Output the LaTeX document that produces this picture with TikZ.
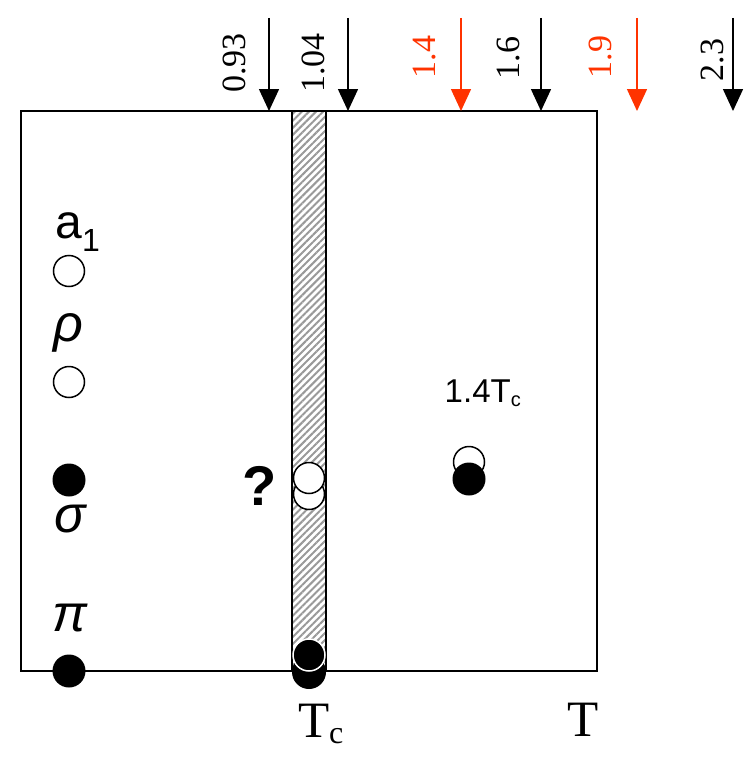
\documentclass[tikz,border=0pt]{standalone}
\usepackage{fontspec}
\setmainfont{Liberation Serif}
\newfontfamily\hv{Liberation Sans}
\usetikzlibrary{arrows.meta,patterns.meta}
\definecolor{redorange}{RGB}{255,51,0}
\begin{document}
\begin{tikzpicture}[x=1pt,y=-1pt,
  box/.style={line width=1.5pt},
  arr/.style={line width=1.5pt,-{Triangle[width=20pt,length=22pt]}},
  toplbl/.style={rotate=90,font=\fontsize{34}{34}\selectfont,inner sep=0pt},
  opendot/.style={circle,draw=black,fill=white,line width=1.5pt,minimum size=31pt,inner sep=0pt},
  filldot/.style={circle,fill=black,minimum size=33pt,inner sep=0pt},
  hvlbl/.style={font=\hv\fontsize{48}{48}\selectfont,inner sep=0pt},
  greek/.style={font=\hv\itshape\fontsize{52}{52}\selectfont,inner sep=0pt},
  serifbig/.style={font=\fontsize{51}{51}\selectfont,inner sep=0pt}]
\useasboundingbox (0,0) rectangle (751,760);
% frame
\draw[box] (21,111) rectangle (597,671);
% hatched bar
\path[pattern={Lines[angle=45,distance=5pt,line width=2pt]},pattern color=gray!80] (292,111) rectangle (326,672);
\draw[line width=1.5pt] (292,111) -- (292,672) (326,111) -- (326,672) (292,111) -- (326,111);
\node[circle,fill=black,minimum size=34pt,inner sep=0pt] (barbot) at (309,672) {};
\node[circle,fill=black,draw=white,line width=1.5pt,minimum size=32pt,inner sep=0pt] (tcdot) at (309,655) {};
% question circles
\node[opendot] (q2) at (309,494) {};
\node[opendot] (q1) at (309,478) {};
\node[inner sep=0pt,font=\hv\bfseries\fontsize{56}{56}\selectfont] (qm) at (260,486) {?};
% right circles
\node[opendot] (r1) at (469,462) {};
\node[filldot] (r2) at (469,479) {};
\node[font=\hv\fontsize{33}{33}\selectfont,inner sep=0pt] (lbl14) at (483,393) {1.4T$_{\mbox{\hv\fontsize{20}{20}\selectfont c}}$};
% left column
\node[hvlbl] (a1) at (78,232) {a$_{\mbox{\hv\fontsize{32}{32}\selectfont 1}}$};
\node[opendot] (ca1) at (69,271) {};
\node[greek] (rho) at (68,333) {ρ};
\node[opendot] (crho) at (69,382) {};
\node[filldot] (csig) at (69,480) {};
\node[greek] (sig) at (70,519) {σ};
\node[greek] (pi) at (70,618) {π};
\node[filldot] (cpi) at (69,671) {};
% bottom labels
\node[serifbig] (tc) at (321,724) {T$_{\mbox{\fontsize{32}{32}\selectfont c}}$};
\node[serifbig] (tt) at (583,720) {T};
% top arrows
\coordinate (s1) at (269,18); \coordinate (e1) at (269,111);
\coordinate (s2) at (348,18); \coordinate (e2) at (348,111);
\coordinate (s3) at (461,18); \coordinate (e3) at (461,111);
\coordinate (s4) at (541,18); \coordinate (e4) at (541,111);
\coordinate (s5) at (637,18); \coordinate (e5) at (637,111);
\coordinate (s6) at (733,18); \coordinate (e6) at (733,111);
\draw[arr] (s1) -- (e1);
\draw[arr] (s2) -- (e2);
\draw[arr,redorange] (s3) -- (e3);
\draw[arr] (s4) -- (e4);
\draw[arr,redorange] (s5) -- (e5);
\draw[arr] (s6) -- (e6);
\node[toplbl] (l1) at (234,63) {0.93};
\node[toplbl] (l2) at (313,63) {1.04};
\node[toplbl,redorange] (l3) at (425,57) {1.4};
\node[toplbl] (l4) at (508,58) {1.6};
\node[toplbl,redorange] (l5) at (600,57) {1.9};
\node[toplbl] (l6) at (712,60) {2.3};
\end{tikzpicture}
\end{document}
